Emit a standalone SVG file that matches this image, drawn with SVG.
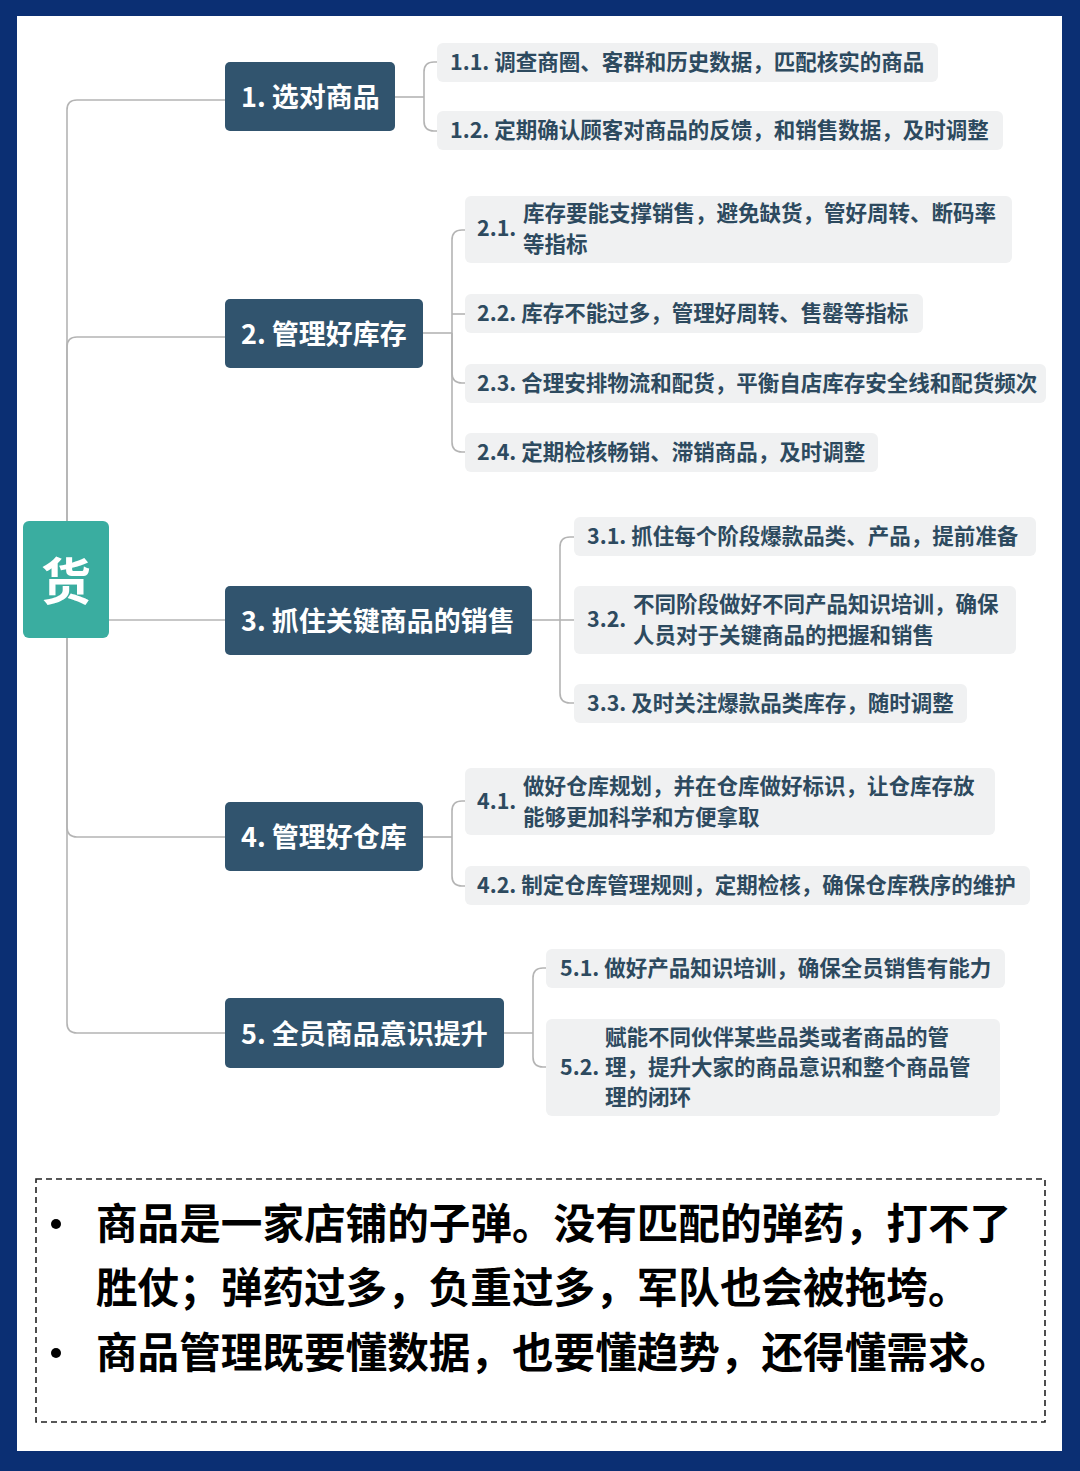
<svg xmlns="http://www.w3.org/2000/svg" width="1080" height="1471" viewBox="0 0 1080 1471">
<style>
.l1 rect{fill:#31546e}
.l1 text{fill:#ffffff;font-family:"Noto Sans CJK SC","Noto Sans",sans-serif;font-weight:700;font-size:27px}
.leaf rect{fill:#f0f1f2}
.leaf text{fill:#2d4a5f;font-family:"Noto Sans CJK SC","Noto Sans",sans-serif;font-weight:700;font-size:21.5px}
.conn path{fill:none;stroke:#b4b4b4;stroke-width:1.6}
.note{fill:#000;font-family:"Noto Sans CJK SC","Noto Sans",sans-serif;font-weight:700;font-size:41.6px}
</style>
<rect x="0" y="0" width="1080" height="1471" fill="#0b2f73"/>
<rect x="17" y="16" width="1045" height="1435" fill="#ffffff"/>

<g id="connectors" class="conn">
<path d="M67 521 V110 Q67 100 77 100 H225"/>
<path d="M67 521 V347 Q67 337 77 337 H225"/>
<path d="M109 620 H225"/>
<path d="M67 638 V827 Q67 837 77 837 H225"/>
<path d="M67 638 V1023 Q67 1033 77 1033 H225"/>
<path d="M395 97 H424"/>
<path d="M424 97 V72 Q424 62 434 62 H437"/>
<path d="M424 97 V121 Q424 131 434 131 H437"/>
<path d="M423 333 H452"/>
<path d="M452 333 V240 Q452 230 462 230 H465"/>
<path d="M452 314 H465"/>
<path d="M452 333 V373 Q452 383 462 383 H465"/>
<path d="M452 333 V442 Q452 452 462 452 H465"/>
<path d="M532 620 H560"/>
<path d="M560 620 V547 Q560 537 570 537 H574"/>
<path d="M560 620 H574"/>
<path d="M560 620 V693 Q560 703 570 703 H574"/>
<path d="M423 837 H452"/>
<path d="M452 837 V811 Q452 801 462 801 H465"/>
<path d="M452 837 V876 Q452 886 462 886 H465"/>
<path d="M504 1033 H533"/>
<path d="M533 1033 V978 Q533 968 543 968 H546"/>
<path d="M533 1033 V1057 Q533 1067 543 1067 H546"/>
</g>

<g id="root">
<rect x="23" y="521" width="86" height="117" rx="6" fill="#3aada0"/>
<text x="66" y="600" text-anchor="middle" fill="#ffffff" font-family="Noto Sans CJK SC, sans-serif" font-weight="700" font-size="50">货</text>
</g>

<g id="n1" class="l1"><rect x="225" y="62" width="170" height="69" rx="5"/><text x="241" y="107">1. 选对商品</text></g>
<g id="n2" class="l1"><rect x="225" y="299" width="198" height="69" rx="5"/><text x="241" y="344">2. 管理好库存</text></g>
<g id="n3" class="l1"><rect x="225" y="586" width="307" height="69" rx="5"/><text x="241" y="631">3. 抓住关键商品的销售</text></g>
<g id="n4" class="l1"><rect x="225" y="802" width="198" height="69" rx="5"/><text x="241" y="847">4. 管理好仓库</text></g>
<g id="n5" class="l1"><rect x="225" y="998" width="279" height="70" rx="5"/><text x="241" y="1044">5. 全员商品意识提升</text></g>

<g id="n1_1" class="leaf"><rect x="437" y="43" width="501" height="39" rx="6"/><text x="450" y="70">1.1. 调查商圈、客群和历史数据，匹配核实的商品</text></g>
<g id="n1_2" class="leaf"><rect x="437" y="111" width="566" height="39" rx="6"/><text x="450" y="138">1.2. 定期确认顾客对商品的反馈，和销售数据，及时调整</text></g>

<g id="n2_1" class="leaf"><rect x="465" y="196" width="547" height="67" rx="6"/><text x="477" y="236">2.1.</text><text x="523" y="221">库存要能支撑销售，避免缺货，管好周转、断码率</text><text x="523" y="252">等指标</text></g>
<g id="n2_2" class="leaf"><rect x="465" y="294" width="458" height="39" rx="6"/><text x="477" y="321">2.2. 库存不能过多，管理好周转、售罄等指标</text></g>
<g id="n2_3" class="leaf"><rect x="465" y="364" width="581" height="39" rx="6"/><text x="477" y="391">2.3. 合理安排物流和配货，平衡自店库存安全线和配货频次</text></g>
<g id="n2_4" class="leaf"><rect x="465" y="433" width="413" height="39" rx="6"/><text x="477" y="460">2.4. 定期检核畅销、滞销商品，及时调整</text></g>

<g id="n3_1" class="leaf"><rect x="574" y="517" width="462" height="39" rx="6"/><text x="587" y="544">3.1. 抓住每个阶段爆款品类、产品，提前准备</text></g>
<g id="n3_2" class="leaf"><rect x="574" y="586" width="442" height="68" rx="6"/><text x="587" y="627">3.2.</text><text x="633" y="612">不同阶段做好不同产品知识培训，确保</text><text x="633" y="643">人员对于关键商品的把握和销售</text></g>
<g id="n3_3" class="leaf"><rect x="574" y="684" width="393" height="39" rx="6"/><text x="587" y="711">3.3. 及时关注爆款品类库存，随时调整</text></g>

<g id="n4_1" class="leaf"><rect x="465" y="768" width="530" height="67" rx="6"/><text x="477" y="809">4.1.</text><text x="523" y="794">做好仓库规划，并在仓库做好标识，让仓库存放</text><text x="523" y="825">能够更加科学和方便拿取</text></g>
<g id="n4_2" class="leaf"><rect x="465" y="866" width="565" height="39" rx="6"/><text x="477" y="893">4.2. 制定仓库管理规则，定期检核，确保仓库秩序的维护</text></g>

<g id="n5_1" class="leaf"><rect x="546" y="949" width="459" height="39" rx="6"/><text x="560" y="976">5.1. 做好产品知识培训，确保全员销售有能力</text></g>
<g id="n5_2" class="leaf"><rect x="546" y="1019" width="454" height="97" rx="6"/><text x="560" y="1075">5.2.</text><text x="605" y="1045">赋能不同伙伴某些品类或者商品的管</text><text x="605" y="1075">理，提升大家的商品意识和整个商品管</text><text x="605" y="1105">理的闭环</text></g>

<g id="note">
<rect x="36" y="1179" width="1009" height="243" fill="none" stroke="#222" stroke-width="1.6" stroke-dasharray="6 4"/>
<circle cx="56" cy="1224" r="5" fill="#000"/>
<circle cx="56" cy="1353" r="5" fill="#000"/>
<text class="note" x="96" y="1239">商品是一家店铺的子弹。没有匹配的弹药，打不了</text>
<text class="note" x="96" y="1303">胜仗；弹药过多，负重过多，军队也会被拖垮。</text>
<text class="note" x="96" y="1368">商品管理既要懂数据，也要懂趋势，还得懂需求。</text>
</g>
</svg>
